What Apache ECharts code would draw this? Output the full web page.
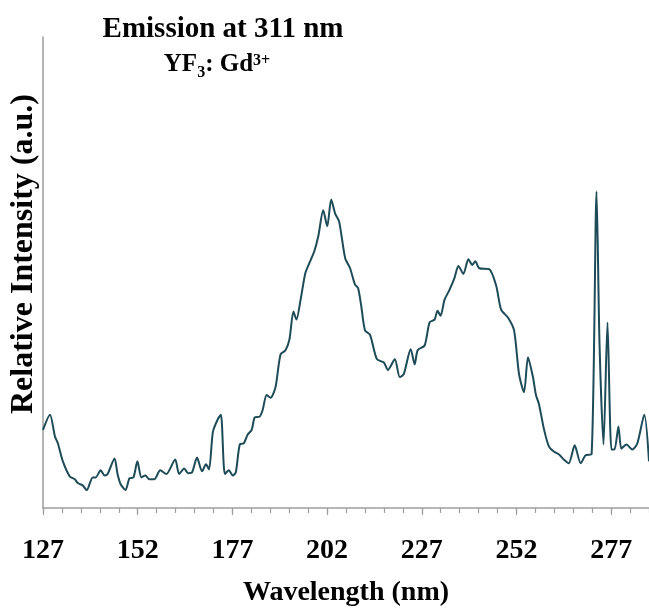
<!DOCTYPE html>
<html>
<head>
<meta charset="utf-8">
<script src="https://cdn.jsdelivr.net/npm/echarts@6/dist/echarts.min.js"></script>
<style>html,body{margin:0;padding:0;background:#fff;}#c{width:649px;height:612px;}</style>
</head>
<body>
<div id="c"></div>
<script>
var tickLabels = ['127', '152', '177', '202', '227', '252', '277'];
var axisMin = 127;
var axisMax = 287;

var wavelength = [
  127.00,128.84,130.15,130.94,132.25,134.08,135.40,136.18,137.50,138.55,
  140.12,140.91,142.22,143.27,144.06,145.89,146.68,147.47,148.78,149.83,
  150.88,151.93,152.98,154.03,155.08,156.39,157.96,159.54,161.90,162.95,
  164.26,165.31,166.36,167.67,168.98,170.03,170.82,171.87,173.18,173.97,
  175.02,176.07,177.12,177.91,178.95,180.00,181.05,182.10,182.89,184.20,
  184.99,186.04,187.09,188.40,189.71,191.02,192.07,193.12,193.91,194.96,
  196.27,197.32,198.63,199.68,200.99,202.05,203.09,204.14,205.19,206.77,
  208.08,209.39,210.18,210.97,212.02,213.33,215.16,217.00,218.05,219.89,
  221.20,222.25,224.09,225.14,225.92,227.76,229.07,230.38,231.17,231.96,
  233.01,234.32,235.63,236.68,237.99,239.31,240.36,241.14,242.19,244.82,
  246.65,247.96,249.80,251.38,252.69,254.00,255.05,256.36,257.15,257.94,
  259.25,260.56,261.87,263.18,264.50,265.81,267.38,268.96,270.27,271.84,
  273.15,273.94,274.99,276.04,277.09,277.88,278.93,279.71,281.03,282.60,
  283.91,285.75,287.00
];
var intensity = [
  16.6,19.8,15.2,13.7,9.9,6.7,6.1,5.3,4.8,3.8,
  6.5,6.5,8.0,6.9,7.2,10.5,7.2,5.1,3.8,6.3,
  6.5,9.9,6.5,6.9,6.1,6.1,8.0,7.2,10.3,7.2,
  8.4,7.4,7.6,10.7,7.8,9.3,8.2,16.2,18.9,19.8,
  7.2,8.0,6.9,7.6,13.5,13.7,15.6,16.6,19.2,19.4,
  20.8,24.0,23.4,25.7,32.6,33.5,35.8,41.7,40.0,44.0,
  49.9,52.0,54.5,57.7,63.2,59.8,65.5,62.5,60.8,53.1,
  50.9,47.4,46.7,43.2,37.7,36.8,31.6,30.9,29.3,31.6,
  27.8,28.4,33.7,30.5,33.5,34.5,39.4,40.0,41.9,40.8,
  44.2,46.3,48.8,51.4,49.7,52.8,51.6,52.4,50.9,50.7,
  47.2,42.1,40.4,37.7,28.4,24.6,32.0,27.8,24.0,22.1,
  16.8,13.1,12.0,11.4,10.3,9.5,13.3,9.5,11.2,11.4,
  67.2,34.7,13.5,39.4,12.4,12.4,17.3,12.6,13.5,12.4,
  13.7,19.8,9.9
];

var categories = [];
for (var w = axisMin; w <= axisMax; w++) categories.push(String(w));
var points = wavelength.map(function (x, i) { return [x, intensity[i]]; });

var serif = '"Liberation Serif", "Times New Roman", serif';
var axisGray = '#9e9e9e';

var chart = echarts.init(document.getElementById('c'), null, { renderer: 'canvas' });
chart.setOption({
  animation: false,
  backgroundColor: '#ffffff',
  title: [
    {
      left: 218, top: 9, textAlign: 'center',
      text: 'Emission at 311 nm',
      textStyle: { fontFamily: serif, fontWeight: 'bold', fontSize: 29, color: '#000', lineHeight: 32 }
    },
    {
      left: 212, top: 44, textAlign: 'center',
      text: '{a|YF}{sub|3}{a|: Gd}{sup|3+}',
      textStyle: {
        fontFamily: serif, fontWeight: 'bold', fontSize: 25, color: '#000', lineHeight: 32,
        rich: {
          a: { fontFamily: serif, fontWeight: 'bold', fontSize: 25, color: '#000', lineHeight: 32 },
          sub: { fontFamily: serif, fontWeight: 'bold', fontSize: 16, color: '#000', lineHeight: 16, verticalAlign: 'bottom' },
          sup: { fontFamily: serif, fontWeight: 'bold', fontSize: 16, color: '#000', lineHeight: 16, verticalAlign: 'top', padding: [4, 0, 0, 0] }
        }
      }
    }
  ],
  grid: { left: 39, right: 0, top: 37, bottom: 100, containLabel: false },
  xAxis: [
    {
      type: 'category', data: categories, boundaryGap: false, position: 'bottom',
      axisLine: { show: true, lineStyle: { color: axisGray, width: 1.5 } },
      axisTick: { show: true, length: 5, interval: function (i) { return i % 5 === 0; }, lineStyle: { color: axisGray, width: 1.2 } },
      axisLabel: {
        show: true, margin: 29,
        interval: function (i) { return i % 25 === 0; },
        formatter: function (v) { return tickLabels.indexOf(v) >= 0 ? v : ''; },
        fontFamily: serif, fontWeight: 'bold', fontSize: 28, color: '#000'
      },
      splitLine: { show: false },
      name: 'Wavelength (nm)', nameLocation: 'middle', nameGap: 71,
      nameTextStyle: { fontFamily: serif, fontWeight: 'bold', fontSize: 28, color: '#000' }
    },
    {
      type: 'category', data: categories, boundaryGap: false, position: 'bottom',
      axisLine: { show: false },
      axisTick: { show: true, length: 7, interval: function (i) { return i % 25 === 0; }, lineStyle: { color: axisGray, width: 1.2 } },
      axisLabel: { show: false },
      splitLine: { show: false }
    },
    {
      type: 'value', min: axisMin, max: axisMax, show: false, splitLine: { show: false }
    }
  ],
  yAxis: {
    type: 'value', min: 0, max: 100,
    axisLine: { show: true, lineStyle: { color: axisGray, width: 1.5 } },
    axisTick: { show: false },
    axisLabel: { show: false },
    splitLine: { show: false },
    name: 'Relative Intensity (a.u.)', nameLocation: 'middle', nameGap: 3, nameRotate: 90,
    nameTextStyle: { fontFamily: serif, fontWeight: 'bold', fontSize: 32, color: '#000', padding: [0, 0, 0, 37] }
  },
  series: [{
    type: 'line', xAxisIndex: 2, data: points, showSymbol: false, symbol: 'none',
    smooth: 0.25,
    lineStyle: { color: '#1d4b57', width: 2 }
  }]
});
</script>
</body>
</html>
